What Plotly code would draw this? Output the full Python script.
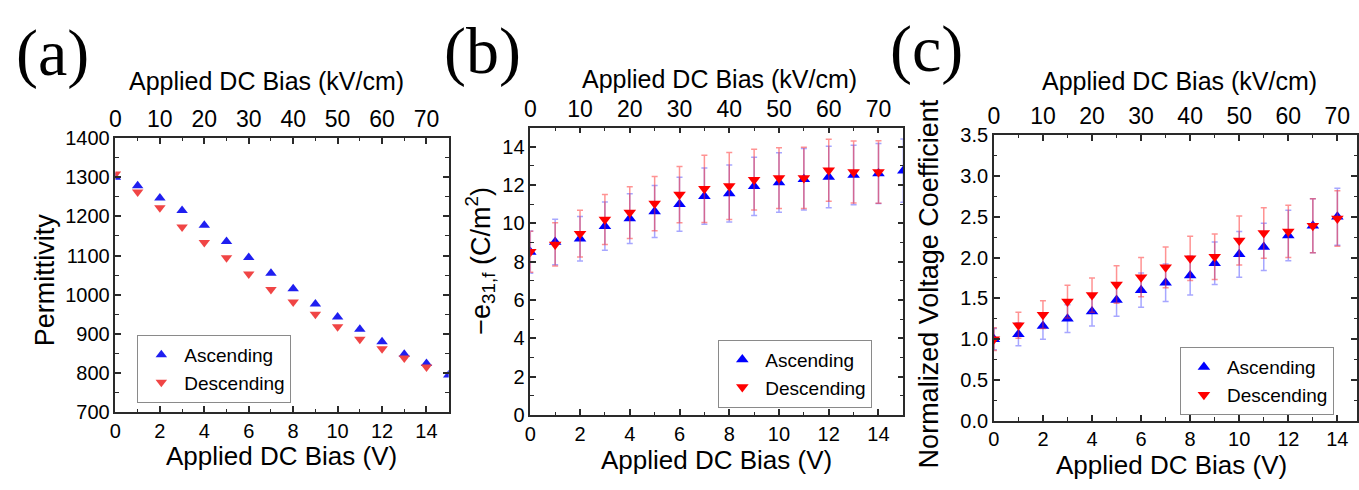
import plotly.graph_objects as go

W, H = 1359, 490

# ---------------- data ----------------
volts_asc = list(range(16))
volts_desc = list(range(15))
volts_c = list(range(15))

perm_asc = [1300, 1278, 1247, 1215, 1177, 1136, 1095, 1055, 1015, 976, 943, 912, 880, 848, 824, 795]
perm_desc = [1308, 1262, 1222, 1173, 1133, 1094, 1053, 1013, 981, 950, 918, 886, 862, 838, 815]

e31_asc = [8.5, 9.03, 9.2, 9.85, 10.25, 10.62, 11.0, 11.42, 11.56, 11.93, 12.13, 12.3, 12.42, 12.52, 12.6, 12.75]
e31_asc_err = [1.1, 1.19, 1.16, 1.26, 1.3, 1.36, 1.41, 1.47, 1.49, 1.52, 1.55, 1.6, 1.6, 1.55, 1.57, 1.65]
e31_desc = [8.52, 8.9, 9.46, 10.2, 10.56, 11.03, 11.5, 11.8, 11.95, 12.28, 12.36, 12.37, 12.77, 12.68, 12.68]
e31_desc_err = [1.07, 1.13, 1.22, 1.31, 1.35, 1.42, 1.47, 1.75, 1.75, 1.58, 1.58, 1.6, 1.62, 1.62, 1.63]

nvc_asc = [1.0, 1.06, 1.16, 1.25, 1.34, 1.48, 1.6, 1.69, 1.78, 1.93, 2.04, 2.13, 2.27, 2.39, 2.5]
nvc_asc_err = [0.13, 0.14, 0.16, 0.17, 0.18, 0.2, 0.21, 0.23, 0.24, 0.26, 0.28, 0.29, 0.31, 0.33, 0.35]
nvc_desc = [1.0, 1.17, 1.3, 1.46, 1.54, 1.67, 1.76, 1.88, 1.99, 2.01, 2.21, 2.3, 2.32, 2.39, 2.48]
nvc_desc_err = [0.14, 0.16, 0.17, 0.2, 0.21, 0.23, 0.24, 0.25, 0.27, 0.28, 0.3, 0.31, 0.32, 0.33, 0.34]

panel_labels = ["(a)", "(b)", "(c)"]
top_title = "Applied DC Bias (kV/cm)"
bottom_title = "Applied DC Bias (V)"
y_titles = ["Permittivity", "\u2212e<sub>31,f</sub> (C/m<sup>2</sup>)", "Normalized Voltage Coefficient"]
series_names = ["Ascending", "Descending"]

# ---------------- style ----------------
SANS = "Arial, Liberation Sans, sans-serif"
SERIF = "Times New Roman, Liberation Serif, serif"
AX = "#2a2a2a"
BLUE = "#0000ff"
RED = "#ff0000"
BLUE_A = "#1f1ff0"
RED_A = "#f04545"
EB_BLUE = "rgba(60,60,255,0.45)"
EB_RED = "rgba(255,40,40,0.50)"


def px_x(p):
    return p / W


def px_y(p):
    return 1 - p / H


fig = go.Figure()

# panel a
fig.add_trace(go.Scatter(x=volts_asc, y=perm_asc, mode="markers", name=series_names[0],
                         marker=dict(symbol="triangle-up", size=10, color=BLUE_A),
                         xaxis="x", yaxis="y", legend="legend"))
fig.add_trace(go.Scatter(x=volts_desc, y=perm_desc, mode="markers", name=series_names[1],
                         marker=dict(symbol="triangle-down", size=10, color=RED_A),
                         xaxis="x", yaxis="y", legend="legend"))

# panel b
fig.add_trace(go.Scatter(x=volts_asc, y=e31_asc, mode="markers", name=series_names[0],
                         marker=dict(symbol="triangle-up", size=11, color=BLUE),
                         error_y=dict(type="data", array=e31_asc_err, color=EB_BLUE, thickness=1.5, width=3),
                         xaxis="x3", yaxis="y2", legend="legend2"))
fig.add_trace(go.Scatter(x=volts_desc, y=e31_desc, mode="markers", name=series_names[1],
                         marker=dict(symbol="triangle-down", size=11, color=RED),
                         error_y=dict(type="data", array=e31_desc_err, color=EB_RED, thickness=1.5, width=3),
                         xaxis="x3", yaxis="y2", legend="legend2"))

# panel c
fig.add_trace(go.Scatter(x=volts_c, y=nvc_asc, mode="markers", name=series_names[0],
                         marker=dict(symbol="triangle-up", size=11, color=BLUE),
                         error_y=dict(type="data", array=nvc_asc_err, color=EB_BLUE, thickness=1.5, width=3),
                         xaxis="x5", yaxis="y3", legend="legend3"))
fig.add_trace(go.Scatter(x=volts_c, y=nvc_desc, mode="markers", name=series_names[1],
                         marker=dict(symbol="triangle-down", size=11, color=RED),
                         error_y=dict(type="data", array=nvc_desc_err, color=EB_RED, thickness=1.5, width=3),
                         xaxis="x5", yaxis="y3", legend="legend3"))

# empty traces so the top axes get a subplot
for xa, ya in (("x2", "y"), ("x4", "y2"), ("x6", "y3")):
    fig.add_trace(go.Scatter(x=[], y=[], xaxis=xa, yaxis=ya, showlegend=False, hoverinfo="skip"))

TICK_FONT = dict(family=SANS, size=20, color="black")
TOP_FONT = dict(family=SANS, size=23, color="black")


def xbottom(domain, rng, anchor):
    return dict(domain=domain, range=rng, anchor=anchor, showline=True, linecolor=AX, linewidth=1.5,
                mirror=False, ticks="inside", ticklen=6, tickwidth=1.5, tickcolor=AX, dtick=2, tick0=0,
                minor=dict(ticks="inside", dtick=1, ticklen=3.5, tickwidth=1.2, tickcolor=AX),
                showgrid=False, zeroline=False, tickfont=TICK_FONT)


def xtop(rng, overlay, anchor):
    return dict(overlaying=overlay, side="top", anchor=anchor, range=rng, showline=True, linecolor=AX,
                linewidth=1.5, ticks="inside", ticklen=6, tickwidth=1.5, tickcolor=AX, dtick=10, tick0=0,
                minor=dict(ticks="inside", dtick=5, ticklen=3.5, tickwidth=1.2, tickcolor=AX),
                showgrid=False, zeroline=False, tickfont=TOP_FONT)


def yleft(domain, rng, anchor, dtick, mdtick, fmt=None):
    d = dict(domain=domain, range=rng, anchor=anchor, showline=True, linecolor=AX, linewidth=1.5,
             mirror="ticks", ticks="inside", ticklen=6, tickwidth=1.5, tickcolor=AX, dtick=dtick, tick0=0,
             minor=dict(ticks="inside", dtick=mdtick, ticklen=3.5, tickwidth=1.2, tickcolor=AX),
             showgrid=False, zeroline=False, tickfont=TICK_FONT)
    if fmt:
        d["tickformat"] = fmt
    return d


dom_a = ([px_x(110), px_x(445)], [px_y(420), px_y(133)])
dom_b = ([px_x(527), px_x(902)], [px_y(423), px_y(122)])
dom_c = ([px_x(993), px_x(1358)], [px_y(429), px_y(130)])

legend_common = dict(bgcolor="white", bordercolor="#8a8a8a", borderwidth=1,
                     font=dict(family=SANS, size=19, color="black"),
                     xanchor="left", yanchor="top", itemwidth=36, tracegroupgap=0)

fig.update_layout(
    width=W, height=H, margin=dict(l=0, r=0, t=0, b=0),
    paper_bgcolor="white", plot_bgcolor="white",
    xaxis=xbottom(dom_a[0], [0, 15], "y"),
    xaxis2=xtop([0, 75], "x", "y"),
    yaxis=yleft(dom_a[1], [700, 1400], "x", 100, 50),
    xaxis3=xbottom(dom_b[0], [0, 15], "y2"),
    xaxis4=xtop([0, 75], "x3", "y2"),
    yaxis2=yleft(dom_b[1], [0, 15], "x3", 2, 1),
    xaxis5=xbottom(dom_c[0], [0, 14.8], "y3"),
    xaxis6=xtop([0, 74], "x5", "y3"),
    yaxis3=yleft(dom_c[1], [0, 3.5], "x5", 0.5, 0.25, ".1f"),
    legend=dict(legend_common, x=px_x(132), y=px_y(339)),
    legend2=dict(legend_common, x=px_x(716), y=px_y(344)),
    legend3=dict(legend_common, x=px_x(1180), y=px_y(352)),
    showlegend=True,
)

ann = []
# panel labels
for lab, cx, cy in zip(panel_labels, [47, 479, 925], [44, 42, 40]):
    ann.append(dict(text=lab, x=px_x(cx), y=px_y(cy), xref="paper", yref="paper", showarrow=False,
                    xanchor="center", yanchor="middle", font=dict(family=SERIF, size=66, color="black")))
# top titles
for cx, cy in zip([262, 717, 1180], [73, 71, 73]):
    ann.append(dict(text=top_title, x=px_x(cx), y=px_y(cy), xref="paper", yref="paper", showarrow=False,
                    xanchor="center", yanchor="middle", font=dict(family=SANS, size=25, color="black")))
# bottom titles
for cx, cy in zip([277, 714, 1172], [466, 470, 475]):
    ann.append(dict(text=bottom_title, x=px_x(cx), y=px_y(cy), xref="paper", yref="paper", showarrow=False,
                    xanchor="center", yanchor="middle", font=dict(family=SANS, size=26, color="black")))
# y titles
for t, cx, cy in zip(y_titles, [40, 477, 928], [281, 262, 286]):
    ann.append(dict(text=t, x=px_x(cx), y=px_y(cy), xref="paper", yref="paper", showarrow=False,
                    textangle=-90, xanchor="center", yanchor="middle",
                    font=dict(family=SANS, size=27, color="black")))
fig.update_layout(annotations=ann)

fig.write_html("out.html")
